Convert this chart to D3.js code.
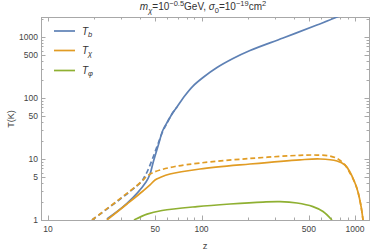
<!DOCTYPE html>
<html>
<head>
<meta charset="utf-8">
<script src="https://cdn.jsdelivr.net/npm/d3@7"></script>
<style>
  body { margin: 0; background: white; }
  text { font-family: "Liberation Sans", Arial, sans-serif; }
</style>
</head>
<body>
<script>
// values: [z, T(K)]
var tbSolid = [[24.2,1.04],[32.7,1.87],[43.5,4.2],[46.2,5.68],[48.3,8.6],[52.1,16.3],[56.1,29.9],
  [60.5,42.0],[64.2,54.7],[69.2,71.2],[78.1,110],[88.0,157],[102.3,217],[126.2,316],[160.4,444],
  [207,601],[340,963],[565,1573],[763,2128],[861,2474]];
var tbDashed = [[19.35,1],[40.4,4.2],[42.8,5.26],[44.8,6.6],[47.6,9.63],[49.8,13.0],[52.9,19.7],
  [55.3,26.7],[57.8,33.5],[60.5,42.0],[64.2,54.7],[69.2,71.2]];
var tchiSolid = [[24.2,1],[32.7,1.83],[41.6,2.99],[46.2,3.75],[49.8,4.53],[53.7,4.97],[62.3,5.68],
  [97.8,6.86],[207,8.28],[438,9.7],[592,10.0],[763,9.27],[861,7.97],[927,6.12],[1000,4.04],
  [1046,2.88],[1094,1.7],[1128,1]];
var tchiDashed = [[19.35,1],[40.4,4.2],[43.5,5.07],[47.6,5.9],[53.7,6.6],[67.2,7.53],[97.8,8.6],
  [207,10.2],[438,11.5],[565,11.6],[687,11.2],[775,10.0],[861,7.97],[927,5.9],[1000,4.04],
  [1046,2.88],[1094,1.7],[1128,1]];
var tphi = [[36.3,1],[44.2,1.25],[55.3,1.43],[93.5,1.66],[153.4,1.83],[251.6,1.97],[324.6,2.0],
  [419,1.9],[532,1.66],[619,1.38],[708,1]];

var xLabels = [10,50,100,500,1000];
var yLabels = [1,5,10,50,100,500,1000];
var legendNames = [["T","b"],["T","\u03c7"],["T","\u03c6"]];

var colors = ["#5e81b5","#e19c24","#8fb032"];

var w = 374, h = 252;
var plotL = 41, plotR = 369, plotT = 17, plotB = 220;

var svg = d3.select("body").append("svg")
  .attr("width", w).attr("height", h);

var x = d3.scaleLog().domain([9, 1234]).range([plotL, plotR]);
var y = d3.scaleLog().domain([1, 2128]).range([plotB, plotT]);

svg.append("clipPath").attr("id","plotClip")
  .append("rect")
  .attr("x", plotL).attr("y", plotT)
  .attr("width", plotR-plotL).attr("height", plotB-plotT);

// frame + ticks
var frameColor = "#a8a8a8";
var labelColor = "#444";

svg.append("rect")
  .attr("x", plotL+0.5).attr("y", plotT+0.5)
  .attr("width", plotR-plotL).attr("height", plotB-plotT)
  .style("fill","none").style("stroke",frameColor).style("stroke-width",1);

function isMajor(v, list){
  for (var i=0;i<list.length;i++){ if (Math.abs(list[i]-v)<1e-6) return true; }
  return false;
}

var xt = x.ticks().filter(function(d){ return d>=x.domain()[0] && d<=x.domain()[1]; });
xt.forEach(function(d){
  var len = isMajor(d, xLabels) ? 4.5 : 2.5;
  var px = Math.round(x(d))+0.5;
  svg.append("line").attr("x1",px).attr("x2",px).attr("y1",plotB).attr("y2",plotB-len)
    .style("stroke",frameColor);
  svg.append("line").attr("x1",px).attr("x2",px).attr("y1",plotT).attr("y2",plotT+len)
    .style("stroke",frameColor);
});
var yt = y.ticks().filter(function(d){ return d>=y.domain()[0] && d<=y.domain()[1]; });
yt.forEach(function(d){
  var len = isMajor(d, yLabels) ? 4.5 : 2.5;
  var py = Math.round(y(d))+0.5;
  svg.append("line").attr("x1",plotL).attr("x2",plotL+len).attr("y1",py).attr("y2",py)
    .style("stroke",frameColor);
  svg.append("line").attr("x1",plotR).attr("x2",plotR-len).attr("y1",py).attr("y2",py)
    .style("stroke",frameColor);
});

svg.selectAll(".xlab").data(xLabels).enter().append("text")
  .attr("x", function(d){ return x(d); })
  .attr("y", 232)
  .attr("text-anchor","middle")
  .attr("font-size", 8.5)
  .attr("fill", labelColor)
  .text(function(d){ return d; });

svg.selectAll(".ylab").data(yLabels).enter().append("text")
  .attr("x", 38)
  .attr("y", function(d){ return y(d)+3; })
  .attr("text-anchor","end")
  .attr("font-size", 8.5)
  .attr("fill", labelColor)
  .text(function(d){ return d; });

// axis titles
svg.append("text")
  .attr("transform","translate(13.5,119) rotate(-90)")
  .attr("text-anchor","middle")
  .attr("font-size", 9)
  .attr("fill", labelColor)
  .text("T(K)");
svg.append("text")
  .attr("x", 205).attr("y", 249)
  .attr("text-anchor","middle")
  .attr("font-size", 9.5)
  .attr("fill", labelColor)
  .text("z");

// title
var title = svg.append("text")
  .attr("x", 203).attr("y", 10)
  .attr("text-anchor","middle")
  .attr("font-size", 10)
  .attr("fill", "#333");
title.append("tspan").attr("font-style","italic").text("m");
title.append("tspan").attr("font-style","italic").attr("font-size",7.5).attr("dy",2.5).text("\u03c7");
title.append("tspan").attr("dy",-2.5).text("=10");
title.append("tspan").attr("font-size",7.5).attr("dy",-4).text("\u22120.5");
title.append("tspan").attr("dy",4).text("GeV, ");
title.append("tspan").attr("font-style","italic").text("\u03c3");
title.append("tspan").attr("font-size",7.5).attr("dy",2.5).text("0");
title.append("tspan").attr("dy",-2.5).text("=10");
title.append("tspan").attr("font-size",7.5).attr("dy",-4).text("\u221219");
title.append("tspan").attr("dy",4).text("cm");
title.append("tspan").attr("font-size",7.5).attr("dy",-4).text("2");

// curves
var line = d3.line()
  .x(function(d){ return x(d[0]); })
  .y(function(d){ return y(d[1]); })
  .curve(d3.curveCatmullRom.alpha(0.5));

var plot = svg.append("g").attr("clip-path","url(#plotClip)");

var curves = [
  {data: tbSolid, color: colors[0], dash: null},
  {data: tbDashed, color: colors[0], dash: "5,3"},
  {data: tchiSolid, color: colors[1], dash: null},
  {data: tchiDashed, color: colors[1], dash: "5,3"},
  {data: tphi, color: colors[2], dash: null}
];
curves.forEach(function(c){
  plot.append("path")
    .attr("d", line(c.data))
    .style("fill","none")
    .style("stroke", c.color)
    .style("stroke-width", 1.7)
    .style("stroke-dasharray", c.dash);
});

// legend
var legendY = [31, 50.5, 70.5];
legendNames.forEach(function(n, i){
  svg.append("line")
    .attr("x1",54).attr("x2",75)
    .attr("y1",legendY[i]).attr("y2",legendY[i])
    .style("stroke", colors[i]).style("stroke-width",1.7);
  var t = svg.append("text")
    .attr("x", 82).attr("y", legendY[i]+3.5)
    .attr("font-size", 10)
    .attr("fill", "#333");
  t.append("tspan").attr("font-style","italic").text(n[0]);
  t.append("tspan").attr("font-style","italic").attr("font-size",7.5).attr("dy",2).text(n[1]);
});
</script>
</body>
</html>
